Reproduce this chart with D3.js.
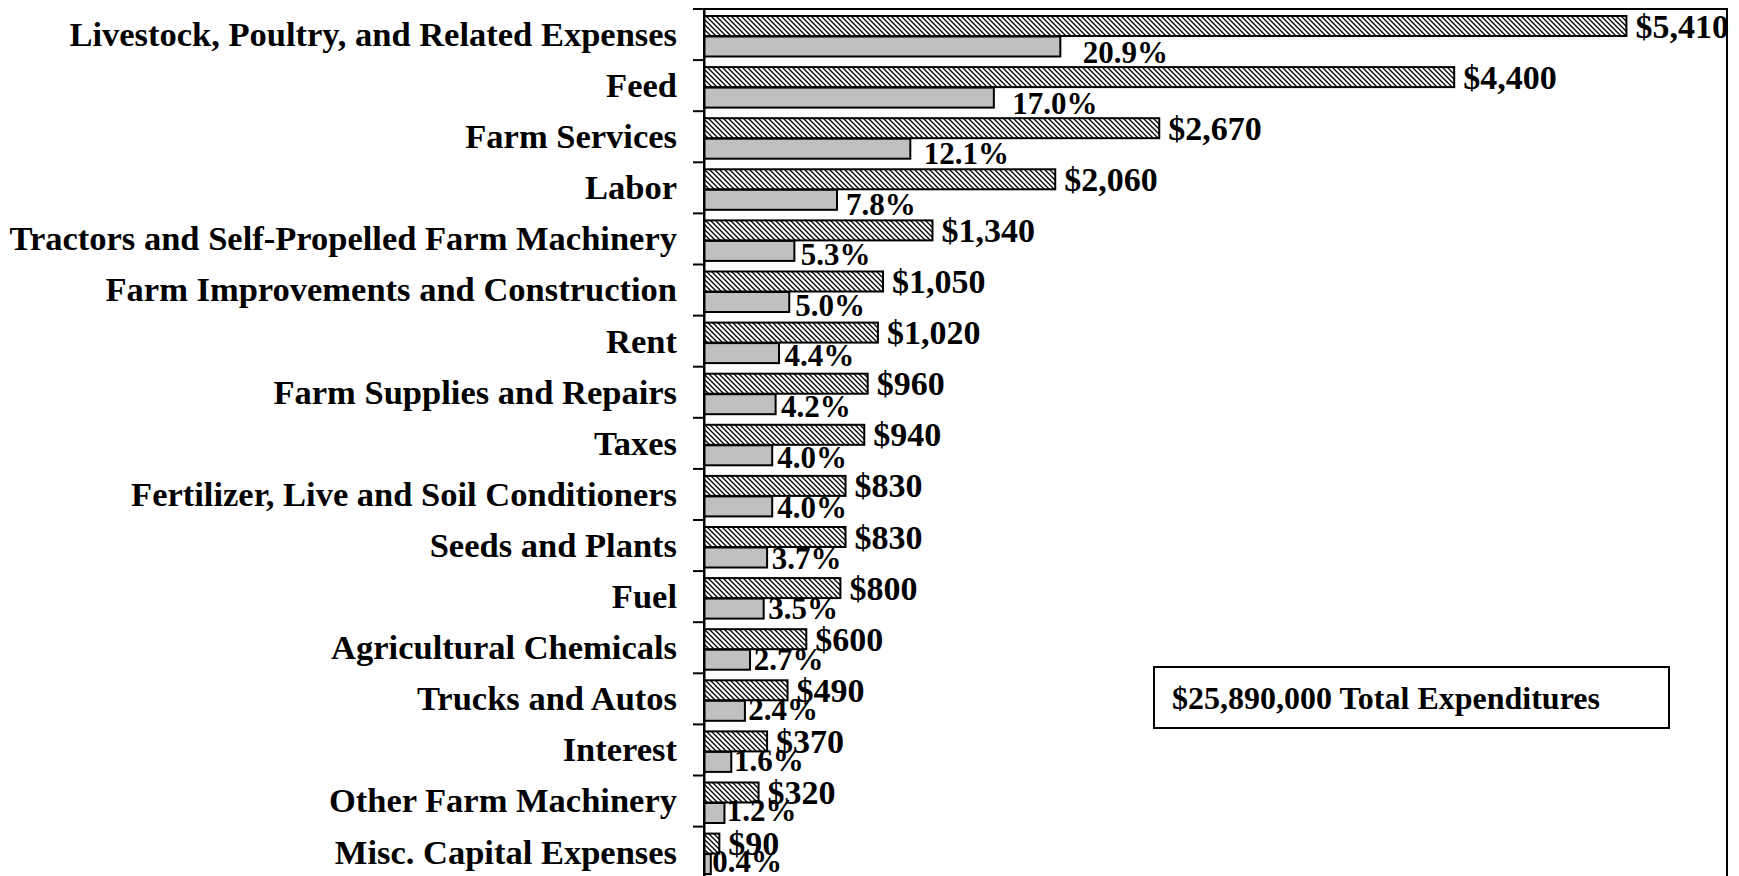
<!DOCTYPE html>
<html>
<head>
<meta charset="utf-8">
<script src="https://cdn.jsdelivr.net/npm/d3@7"></script>
<style>
  html, body { margin: 0; padding: 0; background: #fff; }
  svg { display: block; }
  text { font-family: "Liberation Serif", "Times New Roman", serif; font-weight: bold; fill: #000; }
</style>
</head>
<body>
<svg id="chart" width="1739" height="876"></svg>
<script>
const categories = [
  "Livestock, Poultry, and Related Expenses",
  "Feed",
  "Farm Services",
  "Labor",
  "Tractors and Self-Propelled Farm Machinery",
  "Farm Improvements and Construction",
  "Rent",
  "Farm Supplies and Repairs",
  "Taxes",
  "Fertilizer, Live and Soil Conditioners",
  "Seeds and Plants",
  "Fuel",
  "Agricultural Chemicals",
  "Trucks and Autos",
  "Interest",
  "Other Farm Machinery",
  "Misc. Capital Expenses"
];
const dollars = [5410, 4400, 2670, 2060, 1340, 1050, 1020, 960, 940, 830, 830, 800, 600, 490, 370, 320, 90];
const percents = [20.9, 17.0, 12.1, 7.8, 5.3, 5.0, 4.4, 4.2, 4.0, 4.0, 3.7, 3.5, 2.7, 2.4, 1.6, 1.2, 0.4];
const totalLabel = "$25,890,000 Total Expenditures";

const svg = d3.select("#chart");

// Plot area
const plotLeft = 704, plotRight = 1727, plotTop = 9, band = 51.1;
const plotBottom = plotTop + band * categories.length;

const y = d3.scaleBand().domain(categories).range([plotTop, plotBottom]).padding(0);
const xDollar = d3.scaleLinear().domain([0, 6000]).range([plotLeft, plotRight]);
const xPct = d3.scaleLinear().domain([0, 60]).range([plotLeft, plotRight]);
// percent labels sit slightly further out as the value grows (as in the original)
const xPctLabel = d3.scaleLinear().domain([0, 60]).range([plotLeft + 1, plotLeft + 1 + 60 * 18.07]);
const yPctLabel = d3.scaleLinear().domain([0, categories.length - 1]).range([63, 872]);

// hatch pattern
const defs = svg.append("defs");
const pat = defs.append("pattern")
  .attr("id", "hatch").attr("patternUnits", "userSpaceOnUse")
  .attr("width", 5).attr("height", 5);
pat.append("rect").attr("width", 5).attr("height", 5).attr("fill", "#fff");
pat.append("path")
  .attr("d", "M-1,-1 L6,6 M-1,4 L1,6 M4,-1 L6,1")
  .attr("stroke", "#000").attr("stroke-width", 1.3);

// plot border
svg.append("rect")
  .attr("x", plotLeft).attr("y", plotTop)
  .attr("width", plotRight - plotLeft).attr("height", plotBottom - plotTop)
  .attr("fill", "none").attr("stroke", "#000").attr("stroke-width", 2);

// hatched ($) bars
const hatchOff = 7, hatchH = 20, grayOff = 27.5, grayH = 20;
svg.append("g").selectAll("rect").data(categories).join("rect")
  .attr("x", xDollar(0))
  .attr("y", d => y(d) + hatchOff)
  .attr("width", (d, i) => xDollar(dollars[i]) - xDollar(0))
  .attr("height", hatchH)
  .attr("fill", "url(#hatch)")
  .attr("stroke", "#000").attr("stroke-width", 2);

// gray (%) bars
svg.append("g").selectAll("rect").data(categories).join("rect")
  .attr("x", xPct(0))
  .attr("y", d => y(d) + grayOff)
  .attr("width", (d, i) => xPct(percents[i]) - xPct(0))
  .attr("height", grayH)
  .attr("fill", "#c0c0c0")
  .attr("stroke", "#000").attr("stroke-width", 2);

// dollar labels
const fmt = d3.format(",");
svg.append("g").selectAll("text").data(categories).join("text")
  .attr("x", (d, i) => xDollar(dollars[i]) + 9)
  .attr("y", d => y(d) + hatchOff + hatchH / 2 + 11.5)
  .attr("font-size", 34)
  .text((d, i) => "$" + fmt(dollars[i]));

// percent labels
svg.append("g").selectAll("text").data(categories).join("text")
  .attr("x", (d, i) => xPctLabel(percents[i]))
  .attr("y", (d, i) => yPctLabel(i))
  .attr("font-size", 31)
  .text((d, i) => d3.format(".1f")(percents[i]) + "%");

// y axis with category labels
const axis = d3.axisLeft(y).tickSize(0).tickPadding(27);
const ag = svg.append("g").attr("transform", `translate(${plotLeft},0)`).call(axis);
ag.select(".domain").attr("stroke", "#000").attr("stroke-width", 2);
ag.selectAll(".tick text")
  .attr("font-size", 34.5)
  .attr("font-family", "'Liberation Serif', 'Times New Roman', serif")
  .attr("font-weight", "bold")
  .attr("dy", "0.33em");

// tick marks between categories
const boundaries = categories.map(c => y(c)).concat([plotBottom]);
svg.append("g").selectAll("line").data(boundaries).join("line")
  .attr("x1", plotLeft - 11).attr("x2", plotLeft)
  .attr("y1", d => d).attr("y2", d => d)
  .attr("stroke", "#000").attr("stroke-width", 2);

// total box
const bx = 1154, by = 667, bw = 515, bh = 61;
svg.append("rect").attr("x", bx).attr("y", by).attr("width", bw).attr("height", bh)
  .attr("fill", "#fff").attr("stroke", "#000").attr("stroke-width", 2);
svg.append("text").attr("x", bx + 18).attr("y", by + 42)
  .attr("font-size", 32).text(totalLabel);
</script>
</body>
</html>
